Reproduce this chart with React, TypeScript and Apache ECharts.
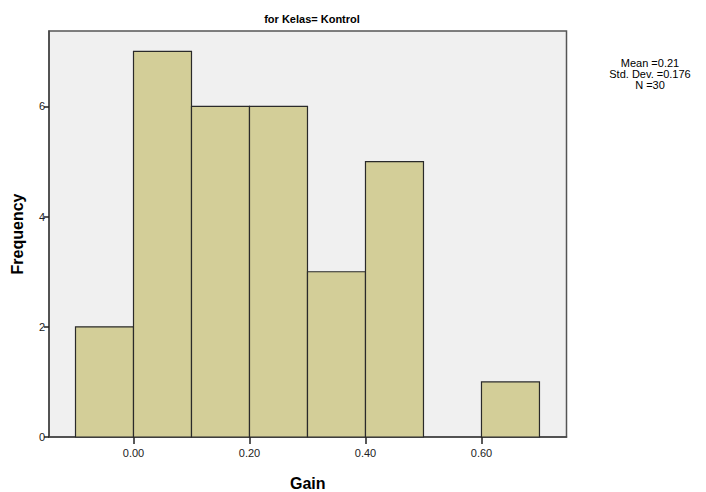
import React, { useEffect, useRef } from "react";
import * as echarts from "echarts";

const binStarts = [-0.1, 0.0, 0.1, 0.2, 0.3, 0.4, 0.5, 0.6];
const counts = [2, 7, 6, 6, 3, 5, 0, 1];
const binWidth = 0.1;
const xTicks = [0, 0.2, 0.4, 0.6];
const yTicks = [0, 2, 4, 6];
const statsLines = ["Mean =0.21", "Std. Dev. =0.176", "N =30"];
const FONT = "'Liberation Sans', Arial, sans-serif";

export default function App() {
  const ref = useRef<HTMLDivElement>(null);
  useEffect(() => {
    if (!ref.current) return;
    const chart = echarts.init(ref.current, null, { renderer: "svg" });
    const data = binStarts.map((s, i) => [s, s + binWidth, counts[i]]);
    chart.setOption({
      animation: false,
      backgroundColor: "#ffffff",
      title: {
        text: "for Kelas= Kontrol",
        left: 307,
        top: 8,
        textAlign: "center",
        textStyle: { fontFamily: FONT, fontSize: 11, fontWeight: "bold", color: "#000" },
      },
      graphic: [
        {
          type: "text",
          x: 650,
          y: 57,
          style: {
            text: statsLines.join("\n"),
            fontFamily: FONT,
            fontSize: 11,
            lineHeight: 11,
            fill: "#000",
            align: "center",
            verticalAlign: "top",
          },
        },
      ],
      grid: {
        left: 49,
        top: 31,
        width: 517.5,
        height: 406,
        outerBoundsMode: "none",
        containLabel: false,
        show: true,
        backgroundColor: "#f0f0f0",
        borderColor: "#555555",
        borderWidth: 1.5,
      },
      xAxis: {
        type: "value",
        min: -0.1457,
        max: 0.7466,
        name: "Gain",
        nameLocation: "middle",
        nameGap: 38,
        nameTextStyle: { fontFamily: FONT, fontSize: 16, fontWeight: "bold", color: "#000" },
        splitLine: { show: false },
        axisLine: { show: true, onZero: false, lineStyle: { color: "#444", width: 1.5 } },
        axisTick: { show: true, length: 7, customValues: xTicks, lineStyle: { color: "#222", width: 1.5 } },
        axisLabel: {
          customValues: xTicks,
          formatter: (v: number) => v.toFixed(2),
          fontFamily: FONT,
          fontSize: 11,
          color: "#222",
          margin: 10,
        },
      },
      yAxis: {
        type: "value",
        min: 0,
        max: 7.37,
        name: "Frequency",
        nameLocation: "middle",
        nameGap: 24,
        nameTextStyle: { fontFamily: FONT, fontSize: 16, fontWeight: "bold", color: "#000" },
        splitLine: { show: false },
        axisLine: { show: true, onZero: false, lineStyle: { color: "#444", width: 1.5 } },
        axisTick: { show: true, length: 5, customValues: yTicks, lineStyle: { color: "#222", width: 1.5 } },
        axisLabel: {
          customValues: yTicks,
          fontFamily: FONT,
          fontSize: 11,
          color: "#222",
          margin: 4,
        },
      },
      series: [
        {
          type: "custom",
          data,
          encode: { x: [0, 1], y: 2 },
          renderItem: (params: any, api: any) => {
            const v = api.value(2);
            if (!v) return null;
            const p0 = api.coord([api.value(0), v]);
            const p1 = api.coord([api.value(1), 0]);
            return {
              type: "rect",
              shape: { x: p0[0], y: p0[1], width: p1[0] - p0[0], height: p1[1] - p0[1] },
              style: { fill: "#d3ce98", stroke: "#2a2a2a", lineWidth: 1.2 },
            };
          },
        },
      ],
    });
    return () => chart.dispose();
  }, []);
  return (
    <div
      ref={ref}
      style={{ position: "fixed", left: 0, top: 0, width: 706, height: 492 }}
    />
  );
}
